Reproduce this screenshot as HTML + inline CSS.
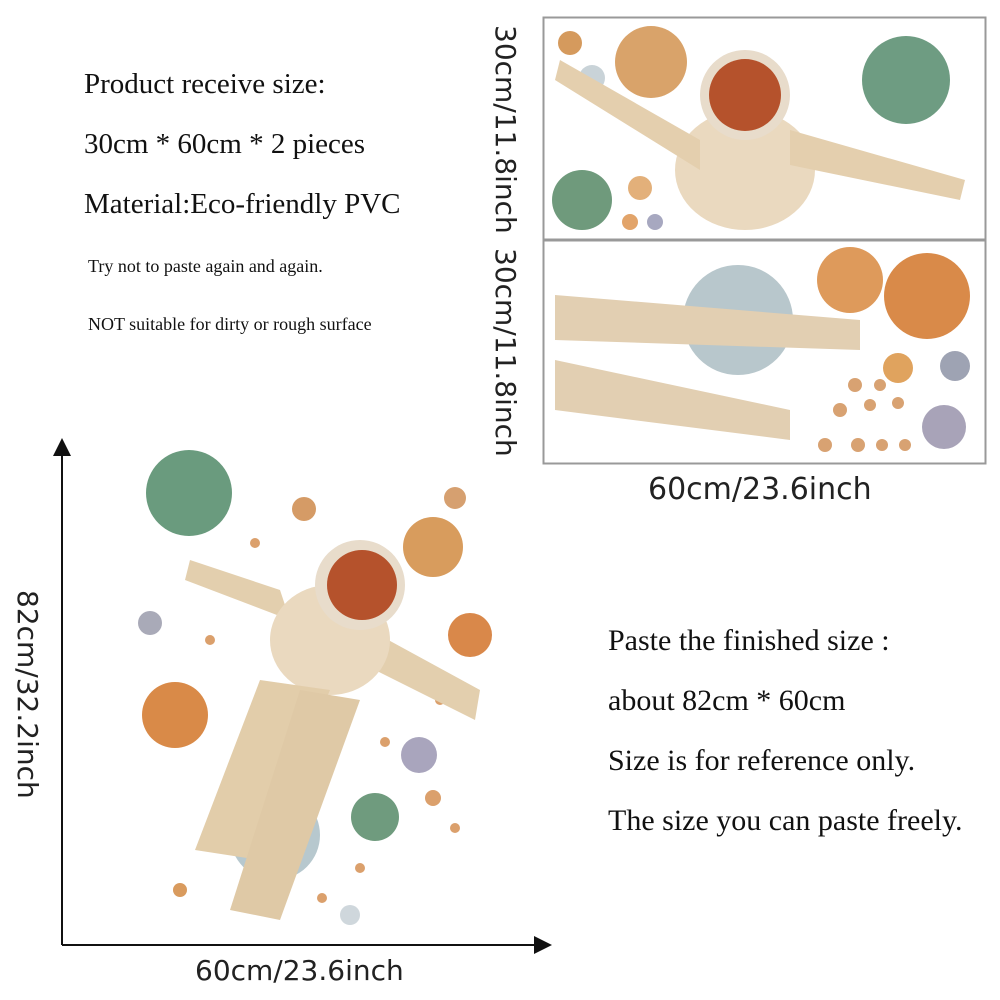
<!DOCTYPE html>
<html><head><style>
body{margin:0;width:1000px;height:1000px;background:#fff;position:relative;overflow:hidden;font-family:"Liberation Serif",serif;color:#111}
.t{position:absolute;white-space:nowrap}
.big{font-size:29px}
.big2{font-size:30px}
.sm{font-size:18px}
.sans{font-family:"DejaVu Sans","Liberation Sans",sans-serif;color:#222}
</style></head><body>
<div class="t big" style="left:84px;top:68px">Product receive size:</div>
<div class="t big" style="left:84px;top:128px">30cm * 60cm * 2 pieces</div>
<div class="t big" style="left:84px;top:188px">Material:Eco-friendly PVC</div>
<div class="t sm" style="left:88px;top:256px">Try not to paste again and again.</div>
<div class="t sm" style="left:88px;top:314px">NOT suitable for dirty or rough surface</div>

<div class="t big2" style="left:608px;top:624px">Paste the finished size :</div>
<div class="t big2" style="left:608px;top:684px">about 82cm * 60cm</div>
<div class="t big2" style="left:608px;top:744px">Size is for reference only.</div>
<div class="t big2" style="left:608px;top:804px">The size you can paste freely.</div>

<div class="t sans" style="left:648px;top:472px;font-size:30px">60cm/23.6inch</div>
<div class="t sans" style="left:195px;top:954px;font-size:28px">60cm/23.6inch</div>

<svg width="1000" height="1000" style="position:absolute;left:0;top:0">
<rect x="543.5" y="17.5" width="442" height="446" fill="none" stroke="#999" stroke-width="2"/>
<line x1="543" y1="240" x2="986" y2="240" stroke="#999" stroke-width="3"/>
<g font-family="DejaVu Sans,Liberation Sans,sans-serif" font-size="28" fill="#222">
<text transform="translate(496,25) rotate(90)">30cm/11.8inch</text>
<text transform="translate(496,248) rotate(90)">30cm/11.8inch</text>
<text transform="translate(18,590) rotate(90)">82cm/32.2inch</text>
</g>
<line x1="62" y1="450" x2="62" y2="945" stroke="#111" stroke-width="2"/>
<polygon points="62,438 53,456 71,456" fill="#111"/>
<line x1="62" y1="945" x2="540" y2="945" stroke="#111" stroke-width="2"/>
<polygon points="552,945 534,936 534,954" fill="#111"/>

<circle cx="651" cy="62" r="36" fill="#d9a36a"/>
<circle cx="906" cy="80" r="44" fill="#6e9c82"/>
<circle cx="570" cy="43" r="12" fill="#d59a5d"/>
<circle cx="592" cy="78" r="13" fill="#c9d3d8"/>
<circle cx="582" cy="200" r="30" fill="#6f9a7c"/>
<circle cx="640" cy="188" r="12" fill="#e3b07a"/>
<circle cx="630" cy="222" r="8" fill="#e2a46a"/>
<circle cx="655" cy="222" r="8" fill="#a7a8c0"/>
<ellipse cx="745" cy="170" rx="70" ry="60" fill="#ead9bf"/>
<circle cx="745" cy="95" r="45" fill="#e8dccb"/>
<circle cx="745" cy="95" r="36" fill="#b5522c"/>
<path d="M560 60 L700 140 L700 170 L555 80Z" fill="#e4cfae"/>
<path d="M790 130 L965 180 L960 200 L790 165Z" fill="#e4cfae"/>
<circle cx="738" cy="320" r="55" fill="#b8c7cc"/>
<circle cx="850" cy="280" r="33" fill="#de9a5b"/>
<circle cx="927" cy="296" r="43" fill="#d98a49"/>
<circle cx="898" cy="368" r="15" fill="#e0a35e"/>
<circle cx="955" cy="366" r="15" fill="#9ea3b3"/>
<circle cx="944" cy="427" r="22" fill="#a8a3b8"/>
<path d="M555 295 L860 320 L860 350 L555 340Z" fill="#e2cfb2"/>
<path d="M555 360 L790 410 L790 440 L555 410Z" fill="#e2cfb2"/>
<g fill="#d8a272"><circle cx="855" cy="385" r="7"/><circle cx="880" cy="385" r="6"/><circle cx="840" cy="410" r="7"/><circle cx="870" cy="405" r="6"/><circle cx="898" cy="403" r="6"/><circle cx="825" cy="445" r="7"/><circle cx="858" cy="445" r="7"/><circle cx="882" cy="445" r="6"/><circle cx="905" cy="445" r="6"/></g>

<circle cx="189" cy="493" r="43" fill="#6a9b7e"/>
<circle cx="433" cy="547" r="30" fill="#d89c5d"/>
<circle cx="455" cy="498" r="11" fill="#d6a070"/>
<circle cx="304" cy="509" r="12" fill="#d59b66"/>
<circle cx="470" cy="635" r="22" fill="#d9884a"/>
<circle cx="150" cy="623" r="12" fill="#a9aab8"/>
<circle cx="175" cy="715" r="33" fill="#d98a48"/>
<circle cx="419" cy="755" r="18" fill="#a9a5bd"/>
<circle cx="375" cy="817" r="24" fill="#6f9b7e"/>
<circle cx="275" cy="835" r="45" fill="#b7c8ce"/>
<circle cx="350" cy="915" r="10" fill="#cfd7dc"/>
<circle cx="180" cy="890" r="7" fill="#d99b5e"/>
<g fill="#dba06c"><circle cx="433" cy="798" r="8"/><circle cx="455" cy="828" r="5"/><circle cx="210" cy="640" r="5"/><circle cx="255" cy="543" r="5"/><circle cx="385" cy="742" r="5"/><circle cx="360" cy="868" r="5"/><circle cx="322" cy="898" r="5"/><circle cx="440" cy="700" r="5"/></g>
<path d="M190 560 L280 590 L290 620 L185 580Z" fill="#e3cfae"/>
<path d="M370 630 L480 690 L475 720 L365 665Z" fill="#e3cfae"/>
<ellipse cx="330" cy="640" rx="60" ry="55" fill="#ead9bf"/>
<circle cx="360" cy="585" r="45" fill="#e8dccb"/>
<circle cx="362" cy="585" r="35" fill="#b5522c"/>
<path d="M260 680 L330 690 L260 860 L195 850Z" fill="#e2cdaa"/>
<path d="M300 690 L360 700 L280 920 L230 910Z" fill="#dfc9a6"/>
</svg>
</body></html>
